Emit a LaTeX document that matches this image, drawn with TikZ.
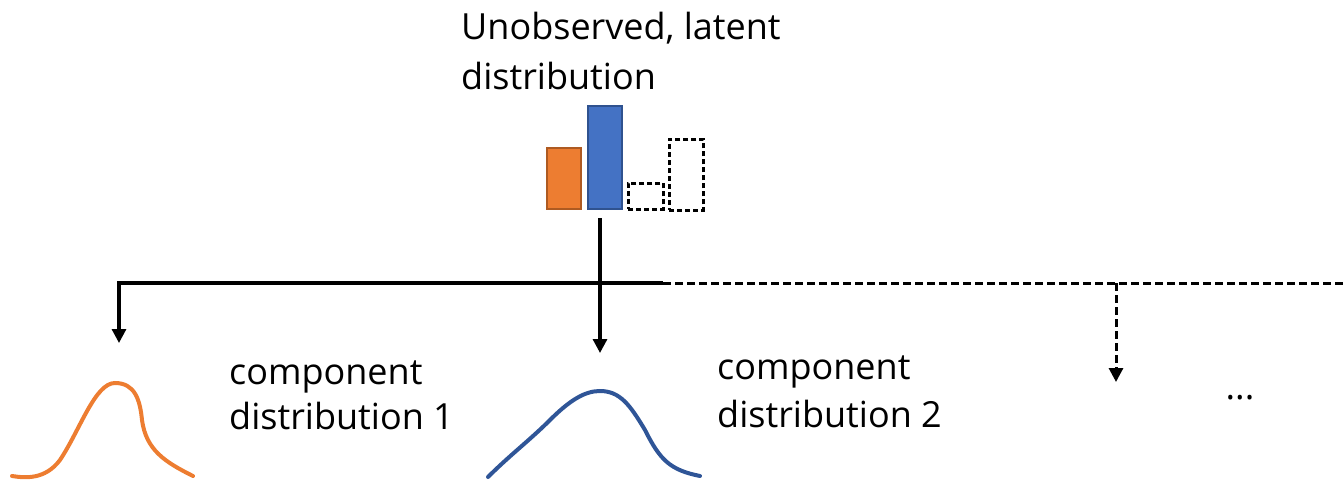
\documentclass[tikz,border=0pt]{standalone}
\usepackage{fontspec}
\setmainfont{Open Sans}[Ligatures=NoCommon]
\usetikzlibrary{arrows.meta}
\definecolor{orangefill}{HTML}{ED7D31}
\definecolor{orangeedge}{HTML}{AE5A21}
\definecolor{bluefill}{HTML}{4472C4}
\definecolor{blueedge}{HTML}{2F528F}
\definecolor{curveorange}{HTML}{ED7D31}
\definecolor{curveblue}{HTML}{2F5597}
\begin{document}
\begin{tikzpicture}[x=1pt,y=-1pt,
  lbl/.style={font=\fontsize{36}{48}\selectfont, anchor=north west, inner sep=0pt, align=left},
  conn/.style={line width=3.2pt},
  tip/.style={-{Triangle[width=14pt,length=14pt]}},
  dconn/.style={line width=3pt, dash pattern=on 8pt off 4pt},
  barA/.style={fill=orangefill, draw=orangeedge, line width=2pt},
  barB/.style={fill=bluefill, draw=blueedge, line width=2pt},
  barD/.style={draw=black, line width=2.7pt, dash pattern=on 5pt off 3pt},
  curve/.style={line width=4pt, line cap=round}]
\useasboundingbox (0,0) rectangle (1343,481);
% title
\node[lbl, font=\fontsize{36}{50}\selectfont] (title) at (461,12) {Unobserved, latent\\distribution};
% bars
\node[barA, minimum width=34pt, minimum height=61pt, inner sep=0pt, anchor=north west] (b1) at (546,147) {};
\node[barB, minimum width=34pt, minimum height=103pt, inner sep=0pt, anchor=north west] (b2) at (587,105) {};
\node[barD, minimum width=35pt, minimum height=26pt, inner sep=0pt, anchor=north west] (b3) at (627,182) {};
\node[barD, minimum width=34pt, minimum height=71pt, inner sep=0pt, anchor=north west] (b4) at (668,138) {};
% connectors
\coordinate (top) at (600,218);
\coordinate (junc) at (600,283);
\coordinate (lcorner) at (119,283);
\coordinate (lend) at (119,343);
\coordinate (mend) at (600,353);
\coordinate (solidend) at (663,283);
\coordinate (rend) at (1343,283);
\coordinate (djunc) at (1116,283);
\coordinate (dend) at (1116,382);
\draw[conn] (top) -- (junc);
\draw[conn, tip] (junc) -- (mend);
\draw[conn, tip] (solidend) -- (lcorner) -- (lend);
\draw[dconn] (solidend) -- (rend);
\draw[dconn, tip] (djunc) -- (dend);
% labels
\node[lbl, font=\fontsize{36}{45}\selectfont] (c1) at (229,361) {component\\distribution 1};
\node[lbl, font=\fontsize{36}{48}\selectfont] (c2) at (717,356) {component\\distribution 2};
\node[font=\fontsize{36}{40}\selectfont, inner sep=0pt] (dots) at (1240,398) {...};
% curves
\draw[curve, draw=curveorange] (12,476) .. controls (25,478) and (45,480) .. (60,460)
  .. controls (80,430) and (95,383) .. (115,383)
  .. controls (135,383) and (140,400) .. (142,420)
  .. controls (146,450) and (165,462) .. (193,476);
\draw[curve, draw=curveblue] (488,477) .. controls (510,455) and (530,440) .. (550,420)
  .. controls (570,400) and (585,391) .. (600,391)
  .. controls (620,391) and (630,405) .. (645,430)
  .. controls (660,460) and (670,470) .. (700,476);
\end{tikzpicture}
\end{document}
